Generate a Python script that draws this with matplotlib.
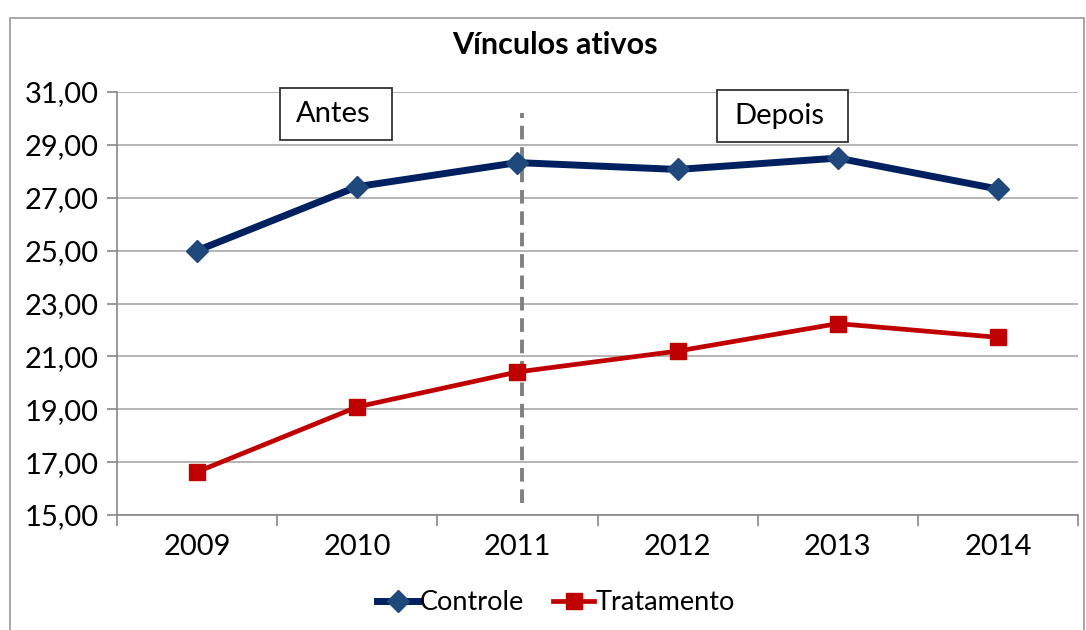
import matplotlib.pyplot as plt
from matplotlib.patches import Rectangle
from matplotlib.ticker import FuncFormatter

anos = ["2009", "2010", "2011", "2012", "2013", "2014"]
controle = [25.00, 27.42, 28.33, 28.07, 28.50, 27.33]
tratamento = [16.63, 19.09, 20.41, 21.20, 22.24, 21.72]

plt.rcParams['font.family'] = ['Lato', 'DejaVu Sans']

fig = plt.figure(figsize=(10.86, 6.3), dpi=100)
W, H = 1086, 630
ax = fig.add_axes([117 / W, 1 - 515 / H, (1078 - 117) / W, (515 - 92) / H])

x = list(range(len(anos)))
ax.plot(x, controle, color='#002060', lw=5, marker='D', ms=11,
        mfc='#1F497D', mec='#1F497D', label="Controle", zorder=3)
ax.plot(x, tratamento, color='#C00000', lw=3.4, marker='s', ms=12,
        mfc='#C00000', mec='#C00000', label="Tratamento", zorder=3)

# linha vertical antes/depois
ax.plot([2.03, 2.03], [15.45, 30.2], color='#808080', lw=2.8, ls=(0, (3.5, 2)), zorder=2)

ax.set_xlim(-0.5, 5.5)
ax.set_ylim(15, 31)
ax.set_yticks(range(15, 32, 2))
ax.yaxis.set_major_formatter(FuncFormatter(lambda v, p: f"{v:.2f}".replace(".", ",")))
ax.set_xticks(x)
ax.set_xticklabels(anos)
ax.set_xticks([i - 0.5 for i in range(7)], minor=True)
ax.tick_params(axis='x', which='major', length=0, pad=14, labelsize=21)
ax.tick_params(axis='x', which='minor', length=8, color='#878787', width=1.2)
ax.tick_params(axis='y', length=7, color='#878787', width=1.2, labelsize=21, pad=6)
ax.grid(axis='y', color='#AFAFAF', lw=1.3)
ax.set_axisbelow(True)
for s in ['top', 'right']:
    ax.spines[s].set_visible(False)
for s in ['left', 'bottom']:
    ax.spines[s].set_color('#878787')
    ax.spines[s].set_linewidth(1.2)

# caixas Antes / Depois
for (x0, y0, x1, y1), txt in [((280, 88, 392, 140), "Antes"), ((717, 90, 848, 142), "Depois")]:
    fig.patches.append(Rectangle((x0 / W, 1 - y1 / H), (x1 - x0) / W, (y1 - y0) / H,
                                 transform=fig.transFigure, fc='white', ec='#333333', lw=1.3))
    fig.text((x0 + x1) / 2 / W - 3 / W, 1 - (y0 + y1) / 2 / H, txt, fontsize=21,
             ha='center', va='center')

fig.text(555 / W, 1 - 45 / H, "Vínculos ativos", fontsize=22, fontweight='bold',
         ha='center', va='center')

fig.legend(loc='center', bbox_to_anchor=(556 / W, 1 - 603 / H), ncol=2, frameon=False,
           fontsize=19.5, handlelength=1.5, handletextpad=0.05, columnspacing=1.1)

fig.patches.append(Rectangle((10 / W, -0.1), 1074 / W, 1.1 - 18 / H, transform=fig.transFigure,
                             fill=False, ec='#A0A0A0', lw=1.3))

fig.savefig("out.png", dpi=100)
